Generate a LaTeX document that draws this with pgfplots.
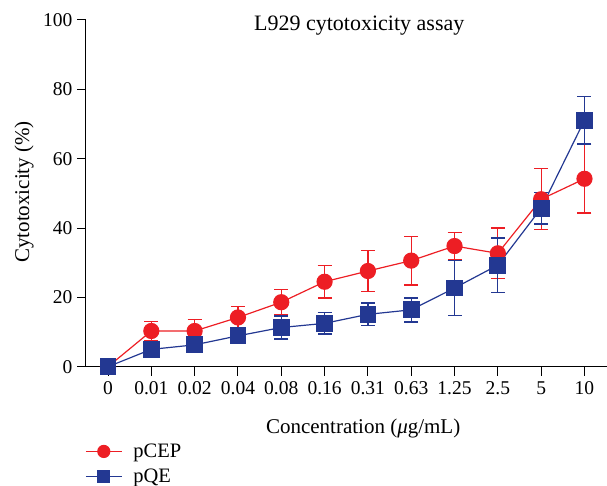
\documentclass[border=0pt]{standalone}
\usepackage{fontspec}
\setmainfont{Liberation Serif}
\usepackage{pgfplots}
\pgfplotsset{compat=1.18}

\definecolor{cepred}{RGB}{237,30,36}
\definecolor{qeblue}{RGB}{35,56,146}

\begin{document}
\begin{tikzpicture}
\useasboundingbox (-86pt,-119.3pt) rectangle (521pt,366.7pt);
\begin{axis}[
    at={(0,0)}, anchor=south west,
    scale only axis,
    width=521pt, height=346.7pt,
    xmin=-0.508, xmax=11.52,
    ymin=0, ymax=100,
    axis lines=left,
    axis line style={-, line width=1pt},
    tick align=outside,
    major tick length=9pt,
    tick style={black, line width=1pt},
    xtick={0,...,11},
    xticklabels={0,0.01,0.02,0.04,0.08,0.16,0.31,0.63,1.25,2.5,5,10},
    ytick={0,20,40,60,80,100},
    /pgf/number format/assume math mode=true,
    ticklabel style={font=\fontsize{19.5}{22}\selectfont},
    xticklabel style={yshift=-2pt},
    yticklabel style={xshift=-1pt},
    xlabel={Concentration (\textit{μ}g/mL)},
    ylabel={Cytotoxicity (\%)},
    label style={font=\fontsize{21}{24}\selectfont},
    xlabel style={at={(axis description cs:0.532,0)}, anchor=base, yshift=-66.6pt},
    ylabel style={at={(axis description cs:-0.119,0.504)}, anchor=center},
    clip=false,
    legend style={at={(0,0)}, anchor=north west, xshift=-1pt, yshift=-76pt,
        draw=none, fill=none, inner sep=0pt, row sep=8pt, column sep=10pt,
        font=\fontsize{20.5}{24}\selectfont,
        nodes={inner sep=1pt}},
    legend cell align=left,
    legend image code/.code={
        \draw[mark repeat=2, mark phase=2, mark size=6pt]
            plot coordinates {(0pt,0pt) (18pt,0pt) (36pt,0pt)};},
    error bars/y dir=both,
    error bars/y explicit,
]

\addplot[cepred, line width=1.2pt, mark=*, mark size=7.5pt,
    mark options={fill=cepred, draw=cepred},
    error bars/error bar style={line width=1.3pt},
    error bars/error mark options={rotate=90, mark size=7pt, line width=1.3pt}]
    table[x=x, y=y, y error=e] {
x   y     e
0   0     0
1   10.3  2.7
2   10.3  3.3
3   14.2  3.2
4   18.6  3.6
5   24.5  4.7
6   27.6  6.0
7   30.6  7.0
8   34.8  4.0
9   32.7  7.3
10  48.3  8.8
11  54.2  9.9
};
\addlegendentry{pCEP}

\addplot[qeblue, line width=1.2pt, mark=square*, mark size=7.8pt,
    mark options={fill=qeblue, draw=qeblue},
    error bars/error bar style={line width=1.3pt},
    error bars/error mark options={rotate=90, mark size=7pt, line width=1.6pt}]
    table[x=x, y=y, y error=e] {
x   y     e
0   0     0
1   5.0   2.2
2   6.3   1.2
3   8.9   1.5
4   11.3  3.3
5   12.5  3.1
6   15.1  3.2
7   16.4  3.5
8   22.7  7.9
9   29.3  7.9
10  45.7  4.6
11  71.1  6.8
};
\addlegendentry{pQE}

\node[font=\fontsize{22}{26}\selectfont, anchor=base] at (axis cs:5.80,97.1) {L929 cytotoxicity assay};
\end{axis}
\end{tikzpicture}
\end{document}
